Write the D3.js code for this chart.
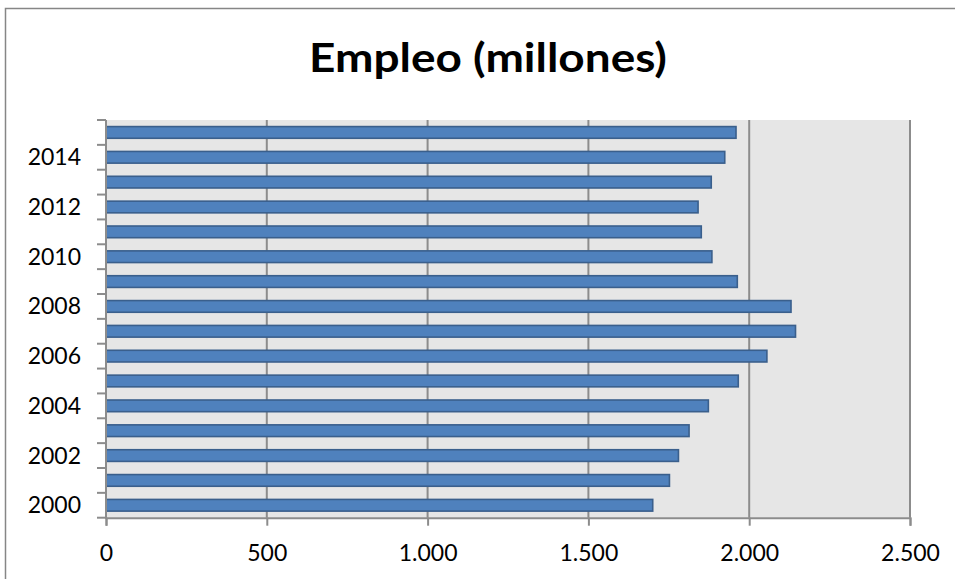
<!DOCTYPE html>
<html lang="es">
<head>
<meta charset="utf-8">
<script src="https://cdn.jsdelivr.net/npm/d3@7"></script>
<style>
  html, body { margin: 0; padding: 0; background: #fff; }
  svg { display: block; }
  text { font-family: Lato, "Open Sans", sans-serif; fill: #000; }
</style>
</head>
<body>
<script>
// Empleo anual, millones
const years = ["2000","2001","2002","2003","2004","2005","2006","2007",
               "2008","2009","2010","2011","2012","2013","2014","2015"];
const empleo = [1700, 1752, 1780, 1813, 1873, 1966, 2055, 2144,
                2130, 1963, 1884, 1851, 1841, 1882, 1924, 1959];
const yearLabels = ["2000","2002","2004","2006","2008","2010","2012","2014"];
const xTicks = [0, 500, 1000, 1500, 2000, 2500];
const title = "Empleo (millones)";

const W = 955, H = 579;
const plot = { left: 106, right: 910, top: 120, bottom: 517.7 };

const svg = d3.select("body").append("svg")
  .attr("width", W).attr("height", H);

// chart frame
svg.append("rect")
  .attr("x", 5.5).attr("y", 8.5)
  .attr("width", 960).attr("height", 600)
  .attr("fill", "#fff").attr("stroke", "#868686").attr("stroke-width", 1.5);

const es = d3.formatLocale({ decimal: ",", thousands: ".", grouping: [3], currency: ["", "€"] });
const fmt = es.format(",");

const x = d3.scaleLinear().domain([0, 2500]).range([plot.left, plot.right]);
const yCat = d3.scaleBand().domain(years.slice().reverse())
  .range([plot.top, plot.bottom]).paddingInner(0.53).paddingOuter(0.265);

// plot area background
svg.append("rect")
  .attr("x", plot.left).attr("y", plot.top)
  .attr("width", plot.right - plot.left).attr("height", plot.bottom - plot.top)
  .attr("fill", "#e6e6e6");

// vertical gridlines
svg.append("g").selectAll("line")
  .data(xTicks.filter(d => d > 0))
  .join("line")
  .attr("x1", d => x(d)).attr("x2", d => x(d))
  .attr("y1", plot.top).attr("y2", plot.bottom)
  .attr("stroke", "#8c8c8c").attr("stroke-width", 2);

// bars
svg.append("g").selectAll("rect")
  .data(years.map((y, i) => ({ year: y, v: empleo[i] })))
  .join("rect")
  .attr("x", x(0))
  .attr("y", d => yCat(d.year))
  .attr("width", d => x(d.v) - x(0))
  .attr("height", yCat.bandwidth())
  .attr("fill", "#4f81bd")
  .attr("stroke", "#3a5f8c")
  .attr("stroke-width", 1.6);

// x axis
const xAxis = svg.append("g")
  .attr("transform", `translate(0,${plot.bottom})`)
  .call(d3.axisBottom(x).tickValues(xTicks).tickFormat(fmt).tickSize(8).tickPadding(19));
xAxis.select(".domain").attr("stroke", "#8c8c8c").attr("stroke-width", 2);
xAxis.selectAll(".tick line").attr("stroke", "#8c8c8c").attr("stroke-width", 2);
xAxis.selectAll(".tick text").attr("font-size", 23)
  .attr("font-family", "Lato, 'Open Sans', sans-serif").attr("fill", "#000");

// y axis: line, boundary ticks, labels every other year
const yg = svg.append("g");
yg.append("line")
  .attr("x1", plot.left).attr("x2", plot.left)
  .attr("y1", plot.top).attr("y2", plot.bottom + 1)
  .attr("stroke", "#8c8c8c").attr("stroke-width", 2);
const step = yCat.step();
yg.selectAll("line.tk")
  .data(d3.range(years.length + 1))
  .join("line").attr("class", "tk")
  .attr("x1", plot.left - 9).attr("x2", plot.left)
  .attr("y1", i => plot.top + i * step).attr("y2", i => plot.top + i * step)
  .attr("stroke", "#8c8c8c").attr("stroke-width", 2);
yg.selectAll("text")
  .data(yearLabels)
  .join("text")
  .attr("x", 81)
  .attr("y", d => yCat(d) + yCat.bandwidth() / 2)
  .attr("dy", "0.35em")
  .attr("text-anchor", "end")
  .attr("font-size", 23)
  .text(d => d);

// title
svg.append("text")
  .attr("x", 488).attr("y", 72)
  .attr("text-anchor", "middle")
  .attr("font-size", 40).attr("font-weight", 700)
  .attr("textLength", 358).attr("lengthAdjust", "spacingAndGlyphs")
  .text(title);
</script>
</body>
</html>
